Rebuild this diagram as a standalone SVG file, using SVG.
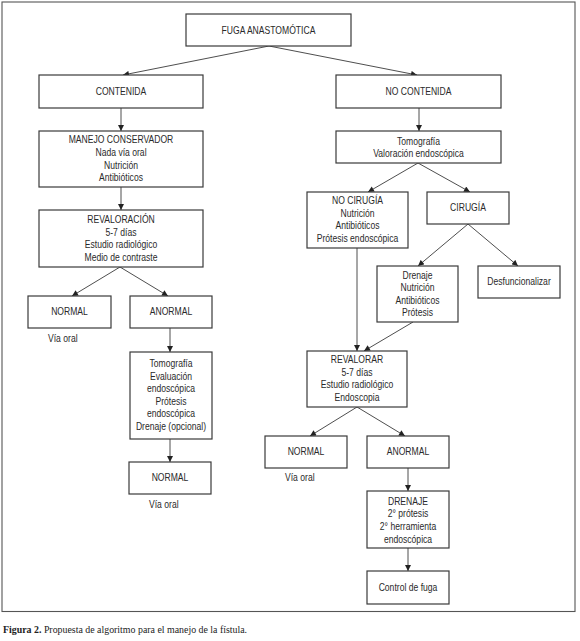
<svg xmlns="http://www.w3.org/2000/svg" width="580" height="641" viewBox="0 0 580 641">
<style>
.box{fill:#fff;stroke:#3a3a3a;stroke-width:1.2}
.t{font-family:"Liberation Sans",Arial,sans-serif;font-size:10px;fill:#2a2a2a;text-anchor:middle}
.l{font-family:"Liberation Sans",Arial,sans-serif;font-size:10px;fill:#2a2a2a}
.c{stroke:#3a3a3a;stroke-width:0.9;fill:none;marker-end:url(#ah)}
.cap{font-family:"Liberation Serif","Times New Roman",serif;font-size:9.9px;fill:#222}
</style>
<defs>
<marker id="ah" viewBox="0 0 10 10" refX="10" refY="5" markerWidth="7" markerHeight="6" markerUnits="userSpaceOnUse" orient="auto">
<path d="M0,0 L10,5 L0,10 z" fill="#222"/>
</marker>
</defs>
<rect x="0" y="0" width="580" height="641" fill="#fff"/>
<rect x="2" y="2" width="573" height="609.5" fill="none" stroke="#555" stroke-width="1.1"/>

<g id="connectors">
<line class="c" x1="269" y1="46" x2="123" y2="75"/>
<line class="c" x1="269" y1="46" x2="417" y2="75"/>
<line class="c" x1="121" y1="108" x2="121" y2="131"/>
<line class="c" x1="419" y1="108" x2="419" y2="131"/>
<line class="c" x1="121" y1="187" x2="121" y2="210"/>
<line class="c" x1="418" y1="163" x2="368" y2="192"/>
<line class="c" x1="418" y1="163" x2="470" y2="192"/>
<line class="c" x1="120" y1="267" x2="72" y2="296"/>
<line class="c" x1="120" y1="267" x2="168" y2="296"/>
<line class="c" x1="170" y1="328" x2="170" y2="352"/>
<line class="c" x1="170" y1="439" x2="170" y2="462"/>
<line class="c" x1="468" y1="224" x2="418" y2="266"/>
<line class="c" x1="468" y1="224" x2="518" y2="266"/>
<line class="c" x1="357" y1="248" x2="357" y2="351"/>
<line class="c" x1="413" y1="322" x2="364" y2="351"/>
<line class="c" x1="357" y1="407" x2="310" y2="436"/>
<line class="c" x1="357" y1="407" x2="405" y2="436"/>
<line class="c" x1="408" y1="468" x2="408" y2="491"/>
<line class="c" x1="408" y1="548" x2="408" y2="571"/>
</g>

<g id="fuga"><rect class="box" x="186" y="14" width="165" height="32"/>
<g transform="matrix(0.86 0 0 1 268.5 0)"><text class="t" x="0" y="34">FUGA ANASTOMÓTICA</text></g></g>
<g id="contenida"><rect class="box" x="39" y="75" width="164" height="33"/>
<g transform="matrix(0.86 0 0 1 121 0)"><text class="t" x="0" y="95">CONTENIDA</text></g></g>
<g id="no-contenida"><rect class="box" x="336" y="75" width="165" height="33"/>
<g transform="matrix(0.86 0 0 1 418.5 0)"><text class="t" x="0" y="95">NO CONTENIDA</text></g></g>
<g id="manejo"><rect class="box" x="39" y="131" width="164" height="56"/>
<g transform="matrix(0.86 0 0 1 121 0)">
<text class="t" x="0" y="143.5">MANEJO CONSERVADOR</text>
<text class="t" x="0" y="156.5">Nada vía oral</text>
<text class="t" x="0" y="169">Nutrición</text>
<text class="t" x="0" y="181.5">Antibióticos</text></g></g>
<g id="tomografia-r"><rect class="box" x="336" y="131" width="165" height="32"/>
<g transform="matrix(0.86 0 0 1 418.5 0)">
<text class="t" x="0" y="145">Tomografía</text>
<text class="t" x="0" y="157.5">Valoración endoscópica</text></g></g>
<g id="revaloracion"><rect class="box" x="39" y="210" width="164" height="57"/>
<g transform="matrix(0.86 0 0 1 121 0)">
<text class="t" x="0" y="223.5">REVALORACIÓN</text>
<text class="t" x="0" y="236">5-7 días</text>
<text class="t" x="0" y="248.5">Estudio radiológico</text>
<text class="t" x="0" y="261">Medio de contraste</text></g></g>
<g id="no-cirugia"><rect class="box" x="307" y="192" width="101" height="56"/>
<g transform="matrix(0.86 0 0 1 357.5 0)">
<text class="t" x="0" y="204.5">NO CIRUGÍA</text>
<text class="t" x="0" y="217">Nutrición</text>
<text class="t" x="0" y="229.5">Antibióticos</text>
<text class="t" x="0" y="242">Prótesis endoscópica</text></g></g>
<g id="cirugia"><rect class="box" x="427" y="192" width="82" height="32"/>
<g transform="matrix(0.86 0 0 1 468 0)"><text class="t" x="0" y="211.5">CIRUGÍA</text></g></g>
<g id="drenaje-cir"><rect class="box" x="377" y="266" width="81" height="56"/>
<g transform="matrix(0.86 0 0 1 417.5 0)">
<text class="t" x="0" y="279">Drenaje</text>
<text class="t" x="0" y="291.5">Nutrición</text>
<text class="t" x="0" y="304">Antibióticos</text>
<text class="t" x="0" y="316.5">Prótesis</text></g></g>
<g id="desfuncionalizar"><rect class="box" x="478" y="266" width="82" height="32"/>
<g transform="matrix(0.86 0 0 1 519 0)"><text class="t" x="0" y="285.5">Desfuncionalizar</text></g></g>
<g id="normal-l1"><rect class="box" x="28" y="296" width="83" height="32"/>
<g transform="matrix(0.86 0 0 1 69.5 0)"><text class="t" x="0" y="315.5">NORMAL</text></g></g>
<g id="via-oral-1" transform="matrix(0.86 0 0 1 48 0)"><text class="l" x="0" y="342.5">Vía oral</text></g>
<g id="anormal-l"><rect class="box" x="130" y="296" width="82" height="32"/>
<g transform="matrix(0.86 0 0 1 171 0)"><text class="t" x="0" y="315.5">ANORMAL</text></g></g>
<g id="tomografia-l"><rect class="box" x="130" y="352" width="82" height="87"/>
<g transform="matrix(0.86 0 0 1 171 0)">
<text class="t" x="0" y="367.5">Tomografía</text>
<text class="t" x="0" y="380">Evaluación</text>
<text class="t" x="0" y="392.5">endoscópica</text>
<text class="t" x="0" y="405">Prótesis</text>
<text class="t" x="0" y="417.5">endoscópica</text>
<text class="t" x="0" y="430.5">Drenaje (opcional)</text></g></g>
<g id="normal-l2"><rect class="box" x="129" y="462" width="82" height="32"/>
<g transform="matrix(0.86 0 0 1 170 0)"><text class="t" x="0" y="481.5">NORMAL</text></g></g>
<g id="via-oral-2" transform="matrix(0.86 0 0 1 149 0)"><text class="l" x="0" y="508">Vía oral</text></g>
<g id="revalorar"><rect class="box" x="307" y="351" width="100" height="56"/>
<g transform="matrix(0.86 0 0 1 357 0)">
<text class="t" x="0" y="363.5">REVALORAR</text>
<text class="t" x="0" y="376.5">5-7 días</text>
<text class="t" x="0" y="388.5">Estudio radiológico</text>
<text class="t" x="0" y="401">Endoscopia</text></g></g>
<g id="normal-r"><rect class="box" x="265" y="436" width="82" height="32"/>
<g transform="matrix(0.86 0 0 1 306 0)"><text class="t" x="0" y="455.5">NORMAL</text></g></g>
<g id="via-oral-3" transform="matrix(0.86 0 0 1 285 0)"><text class="l" x="0" y="481.5">Vía oral</text></g>
<g id="anormal-r"><rect class="box" x="367" y="436" width="82" height="32"/>
<g transform="matrix(0.86 0 0 1 408 0)"><text class="t" x="0" y="455.5">ANORMAL</text></g></g>
<g id="drenaje"><rect class="box" x="367" y="491" width="82" height="57"/>
<g transform="matrix(0.86 0 0 1 408 0)">
<text class="t" x="0" y="505">DRENAJE</text>
<text class="t" x="0" y="517.5">2° prótesis</text>
<text class="t" x="0" y="530.5">2° herramienta</text>
<text class="t" x="0" y="543">endoscópica</text></g></g>
<g id="control"><rect class="box" x="367" y="571" width="82" height="33"/>
<g transform="matrix(0.86 0 0 1 408 0)"><text class="t" x="0" y="591.5">Control de fuga</text></g></g>

<text class="cap" x="3" y="633"><tspan font-weight="bold">Figura 2.</tspan> Propuesta de algoritmo para el manejo de la fístula.</text>
</svg>
